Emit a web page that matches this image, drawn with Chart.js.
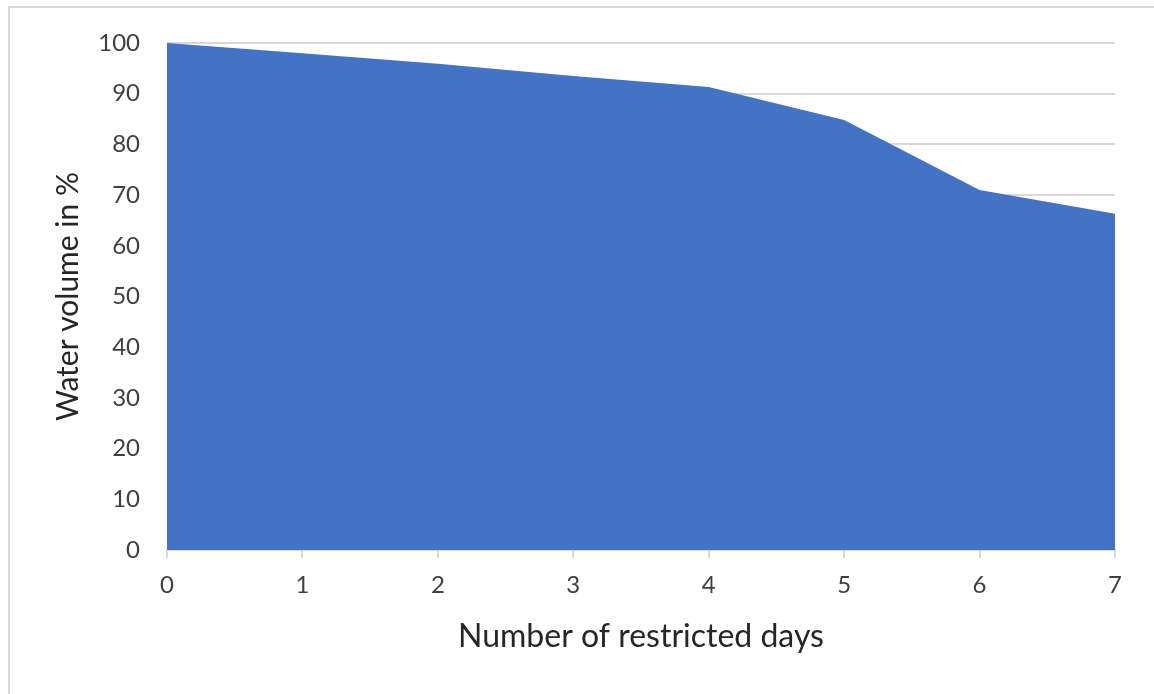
<!DOCTYPE html>
<html>
<head>
<meta charset="utf-8">
<script src="https://cdn.jsdelivr.net/npm/chart.js@4/dist/chart.umd.min.js"></script>
<style>
  html, body { margin: 0; padding: 0; background: #fff; }
  #wrap { position: relative; width: 1154px; height: 694px; }
  #frame { position: absolute; left: 8px; top: 6px; right: -10px; bottom: -10px;
           border-top: 2px solid #d9d9d9; border-left: 2px solid #d9d9d9; pointer-events: none; }
  canvas { position: absolute; left: 0; top: 0; }
</style>
</head>
<body>
<div id="wrap">
  <canvas id="c" width="1154" height="694"></canvas>
  <div id="frame"></div>
</div>
<script>
const days = [0, 1, 2, 3, 4, 5, 6, 7];
const waterVolume = [100, 98.0, 95.9, 93.5, 91.3, 84.8, 71.0, 66.3];
const yTicks = [0, 10, 20, 30, 40, 50, 60, 70, 80, 90, 100];
const xTitle = 'Number of restricted days';
const yTitle = 'Water volume in %';

Chart.defaults.font.family = 'Lato, "Open Sans", sans-serif';

const points = days.map((d, i) => ({ x: d, y: waterVolume[i] }));

new Chart(document.getElementById('c'), {
  type: 'line',
  data: {
    datasets: [{
      data: points,
      borderColor: '#4472C4',
      backgroundColor: '#4472C4',
      borderWidth: 0,
      pointRadius: 0,
      tension: 0,
      fill: 'origin'
    }]
  },
  options: {
    responsive: false,
    animation: false,
    layout: { padding: { left: 0, right: 39, top: 43, bottom: 0 } },
    plugins: { legend: { display: false }, tooltip: { enabled: false } },
    scales: {
      x: {
        type: 'linear',
        min: 0, max: 7,
        afterFit: s => { s.height = 144; },
        afterBuildTicks: s => { s.ticks = days.map(v => ({ value: v })); },
        grid: { drawOnChartArea: false, drawTicks: true, tickLength: 8, color: '#d9d9d9', lineWidth: 2 },
        border: { display: true, color: '#d9d9d9', width: 2 },
        ticks: { color: '#404040', font: { size: 24 }, padding: 13, maxRotation: 0, autoSkip: false },
        title: { display: true, text: xTitle, color: '#262626', font: { size: 32 }, padding: { top: 0, bottom: 38 } }
      },
      y: {
        min: 0, max: 100,
        afterFit: s => { s.width = 167; },
        afterBuildTicks: s => { s.ticks = yTicks.map(v => ({ value: v })); },
        grid: { color: '#d9d9d9', lineWidth: 2, drawTicks: false },
        border: { display: false },
        ticks: { color: '#404040', font: { size: 24 }, padding: 27 },
        title: { display: true, text: yTitle, color: '#262626', font: { size: 30 }, padding: { top: 50, bottom: 0 } }
      }
    }
  }
});
</script>
</body>
</html>
